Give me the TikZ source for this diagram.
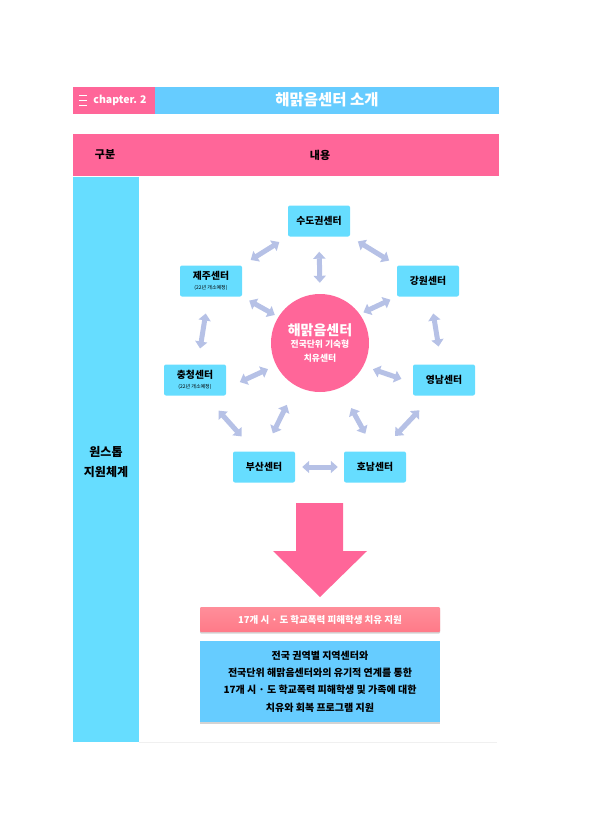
\documentclass[tikz,border=0pt]{standalone}
\usepackage{fontspec}
\setmainfont{Noto Sans CJK KR}
\usetikzlibrary{arrows.meta,shadows}
\definecolor{hotpink}{HTML}{FF6699}
\definecolor{skyblue}{HTML}{66CCFF}
\definecolor{aqua}{HTML}{66DDFF}
\definecolor{lavender}{HTML}{B6C1E6}
\definecolor{salmon}{HTML}{FF7A88}
\newcommand{\notesize}{\mdseries\fontsize{5}{6}\selectfont}
\begin{document}
\begin{tikzpicture}[x=1pt,y=-1pt,
  center/.style = {shape=rectangle, rounded corners=2pt, fill=aqua,
    minimum width=62pt, minimum height=31pt, inner sep=0pt,
    align=center, font=\bfseries\fontsize{9.8}{12}\selectfont},
  link/.style = {draw=lavender, line width=5pt,
    {Triangle[width=12pt,length=7pt]}-{Triangle[width=12pt,length=7pt]}}
  ]
  \useasboundingbox (0,0) rectangle (596,840);
  % header
  \fill[hotpink] (73,87) rectangle (155,114);
  \fill[skyblue] (155,87) rectangle (499,114);
  \foreach \y in {95,100,105}
    \draw[white, line width=0.8pt] (79,\y) -- (87,\y);
  \node[white, font=\bfseries\fontsize{10.5}{12}\selectfont] (chap) at (120,100) {chapter. 2};
  \node[white, font=\bfseries\fontsize{15.5}{18}\selectfont] (title) at (327,100) {해맑음센터 소개};
  % table
  \fill[hotpink] (73,134) rectangle (499,176);
  \fill[aqua] (73,177) rectangle (139,742);
  \draw[black!6] (139,742) -- (497,742);
  \node[font=\bfseries\fontsize{11}{13}\selectfont] (gubun) at (105,155) {구분};
  \node[font=\bfseries\fontsize{11}{13}\selectfont] (naeyong) at (320,155) {내용};
  \node[align=center, font=\bfseries\fontsize{12}{20}\selectfont] (onestop) at (106,462) {원스톱\\지원체계};
  % centers
  \node[circle, fill=hotpink, minimum size=98pt, inner sep=0pt, text=white, align=center,
    font=\bfseries\fontsize{8.8}{13.5}\selectfont] (hub) at (320,343)
    {{\fontsize{14}{17}\selectfont 해맑음센터}\\[-1pt]전국단위 기숙형\\치유센터};
  \node[center] (sudo) at (319,221) {수도권센터};
  \node[center] (jeju) at (211,281) {제주센터\\[-2pt]{\notesize (22년 개소예정)}};
  \node[center] (gangwon) at (428,281) {강원센터};
  \node[center] (chung) at (195,380) {충청센터\\[-2pt]{\notesize (22년 개소예정)}};
  \node[center] (yeong) at (444,380) {영남센터};
  \node[center] (busan) at (264,467) {부산센터};
  \node[center] (honam) at (375,467) {호남센터};
  \draw[link, shorten <=10pt, shorten >=10pt] (sudo.south west) -- (jeju.north east);
  \draw[link, shorten <=9pt, shorten >=9pt] (sudo.south east) -- (gangwon.north west);
  \draw[link, shorten <=15pt, shorten >=11pt] (sudo.south) -- (hub.north);
  \draw[link, shorten <=8pt, shorten >=4pt] (jeju.south east) -- (hub.148);
  \draw[link, shorten <=7pt, shorten >=4pt] (gangwon.south west) -- (hub.36);
  \draw[link, shorten <=17pt, shorten >=16pt] (jeju) -- (chung);
  \draw[link, shorten <=17pt, shorten >=18pt] (gangwon) -- (yeong);
  \draw[link, shorten <=15pt, shorten >=9pt] (chung.-15) -- (hub.207);
  \draw[link, shorten <=12pt, shorten >=10pt] (yeong.185) -- (hub.-28);
  \draw[link, shorten <=20pt, shorten >=21pt] (busan.north) -- (hub.241);
  \draw[link, shorten <=20pt, shorten >=23pt] (honam.north) -- (hub.-66);
  \draw[link, shorten <=20pt, shorten >=20pt] (chung.-57) -- (busan.120);
  \draw[link, shorten <=20pt, shorten >=21pt] (yeong.235) -- (honam.70);
  \draw[link, shorten <=7pt, shorten >=6pt] (busan.east) -- (honam.west);
  % big arrow
  \fill[hotpink] (296,503) -- (343,503) -- (343,551) -- (367,551) -- (320,597)
    -- (273,551) -- (296,551) -- cycle;
  % result boxes
  \node[minimum width=240pt, minimum height=25pt, inner sep=0pt, rounded corners=1pt,
    top color=salmon!85, bottom color=salmon, text=white,
    drop shadow={shadow xshift=0pt, shadow yshift=-1.5pt, opacity=0.35},
    font=\bfseries\fontsize{9.5}{11}\selectfont] (goal) at (320,619.5)
    {17개 시 · 도 학교폭력 피해학생 치유 지원};
  \node[minimum width=240pt, minimum height=81pt, inner sep=0pt, fill=skyblue, align=center,
    drop shadow={shadow xshift=0pt, shadow yshift=-1.5pt, opacity=0.35},
    font=\bfseries\fontsize{10}{17.3}\selectfont] (detail) at (320,681.5)
    {전국 권역별 지역센터와\\전국단위 해맑음센터와의 유기적 연계를 통한\\
     17개 시 · 도 학교폭력 피해학생 및 가족에 대한\\치유와 회복 프로그램 지원};
\end{tikzpicture}
\end{document}
